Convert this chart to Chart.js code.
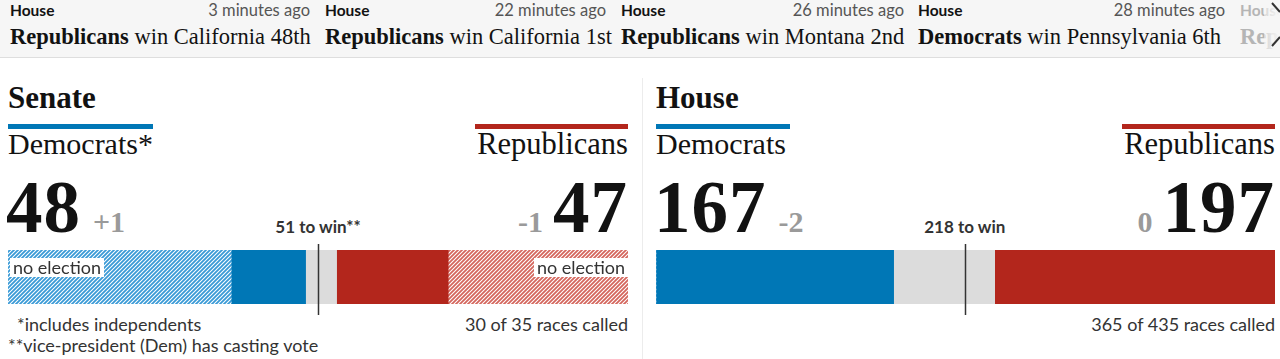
<!DOCTYPE html>
<html>
<head>
<meta charset="utf-8">
<script src="https://cdn.jsdelivr.net/npm/chart.js@4.4.1/dist/chart.umd.min.js"></script>
<style>
  html, body { margin:0; padding:0; }
  body { width:1280px; height:359px; overflow:hidden; background:#fff; position:relative; color:#121212; }
  .a { position:absolute; white-space:nowrap; line-height:1; }
  .serif { font-family:"Liberation Serif", "Times New Roman", serif; }
  .sans { font-family:Lato, "Open Sans", sans-serif; }
  #ticker { position:absolute; left:0; top:0; width:1280px; height:57px; background:#f6f6f6; border-bottom:1px solid #dedede; overflow:hidden; }
  .noel { position:absolute; background:#fff; font-family:Lato, sans-serif; font-size:18px; line-height:18px; height:19px; padding:0 3px; color:#333; white-space:nowrap; }
</style>
</head>
<body>
<div id="ticker"></div>
<div id="root"></div>
<script>
// ---------------- data ----------------
const tickerChamber = ["House", "House", "House", "House", "House"];
const tickerTime = ["3 minutes ago", "22 minutes ago", "26 minutes ago", "28 minutes ago", ""];
const tickerWinner = ["Republicans", "Republicans", "Republicans", "Democrats", "Republicans"];
const tickerRace = ["California 48th", "California 1st", "Montana 2nd", "Pennsylvania 6th", ""];

const chambers = ["Senate", "House"];
const demLabel = ["Democrats*", "Democrats"];
const repLabel = ["Republicans", "Republicans"];
const totalSeats = [100, 435];
const seatsToWin = [51, 218];
const winLabel = ["51 to win**", "218 to win"];
const demNoElection = [36, 0];
const demWon = [12, 167];
const undecided = [5, 71];
const repWon = [18, 197];
const repNoElection = [29, 0];
const demChange = ["+1", "-2"];
const repChange = ["-1", "0"];
const racesCalled = [30, 365];
const racesTotal = [35, 435];
const footnotes = [["*includes independents", "**vice-president (Dem) has casting vote"], []];

// ---------------- style ----------------
const DEM = "#0077b6", REP = "#b3261c", UND = "#dcdcdc";
const DEM_HATCH = "#3a9ad6", REP_HATCH = "#d4665d";

function el(parent, cls, text, css) {
  const d = document.createElement("div");
  d.className = cls;
  if (text !== null) d.textContent = text;
  Object.assign(d.style, css || {});
  parent.appendChild(d);
  return d;
}

// ---------------- ticker ----------------
const ticker = document.getElementById("ticker");
const tLeft = [10, 325, 621, 918, 1240];
const tWidth = [300, 281, 283, 307, 200];
tickerChamber.forEach((c, i) => {
  const faded = i === 4;
  const box = el(ticker, "a", null, { left: tLeft[i] + "px", top: "0px", width: tWidth[i] + "px", height: "57px" });
  el(box, "a sans", c, { left: "0px", top: "3px", fontSize: "15.5px", fontWeight: "700", color: faded ? "#b5b5b5" : "#121212" });
  if (tickerTime[i]) el(box, "a sans", tickerTime[i], { right: "0px", top: "2px", fontSize: "16.5px", color: "#555" });
  const h = el(box, "a serif", null, { left: "0px", top: "26px", fontSize: "22.5px", color: faded ? "#b5b5b5" : "#121212" });
  const b = document.createElement("b"); b.textContent = tickerWinner[i]; h.appendChild(b);
  if (tickerRace[i]) h.appendChild(document.createTextNode(" win " + tickerRace[i]));
});
// fade + arrows at the right edge
el(ticker, "a", null, { left: "1264px", top: "0px", width: "16px", height: "57px", background: "linear-gradient(to right, rgba(246,246,246,0.5), #f6f6f6)" });
const svgNS = "http://www.w3.org/2000/svg";
const svg = document.createElementNS(svgNS, "svg");
svg.setAttribute("width", "16"); svg.setAttribute("height", "57");
svg.style.position = "absolute"; svg.style.left = "1268px"; svg.style.top = "0px";
svg.innerHTML = '<path d="M4 3 L12 12 M4 46 L12 37" stroke="#333" stroke-width="2" fill="none"/>';
ticker.appendChild(svg);

// divider between panels
el(document.body, "a", null, { left: "642px", top: "78px", width: "1px", height: "281px", background: "#ececec" });

// ---------------- panels ----------------
const panelLeft = [8, 656], panelRight = [628, 1275];
const demRuleW = [145, 134], repRuleW = [153, 153];
const root = document.getElementById("root");

function hatchPattern(ctx, color) {
  const t = document.createElement("canvas");
  t.width = 4; t.height = 4;
  const g = t.getContext("2d");
  g.fillStyle = "#fff"; g.fillRect(0, 0, 4, 4);
  g.strokeStyle = color; g.lineWidth = 1.8;
  g.beginPath();
  g.moveTo(-1, 5); g.lineTo(5, -1);
  g.moveTo(-1, 1); g.lineTo(1, -1);
  g.moveTo(3, 5); g.lineTo(5, 3);
  g.stroke();
  return ctx.createPattern(t, "repeat");
}

chambers.forEach((name, i) => {
  const L = panelLeft[i], R = panelRight[i], RR = 1280 - R;
  const demTotal = demNoElection[i] + demWon[i];
  const repTotal = repNoElection[i] + repWon[i];

  el(root, "a serif", name, { left: L + "px", top: "82px", fontSize: "31px", fontWeight: "700" });
  el(root, "a", null, { left: L + "px", top: "124px", width: demRuleW[i] + "px", height: "5px", background: DEM });
  el(root, "a", null, { right: RR + "px", top: "124px", width: repRuleW[i] + "px", height: "5px", background: REP });
  el(root, "a serif", demLabel[i], { left: L + "px", top: "129px", fontSize: "30px" });
  el(root, "a serif", repLabel[i], { right: RR + "px", top: "129px", fontSize: "30.5px" });

  // big numbers
  const dn = el(root, "a serif", String(demTotal), { left: (L - 2) + "px", top: "171px", fontSize: "73px", fontWeight: "700", letterSpacing: "1px" });
  const rn = el(root, "a serif", String(repTotal), { right: RR + "px", top: "171px", fontSize: "73px", fontWeight: "700", letterSpacing: "1px" });
  const dw = dn.getBoundingClientRect().width;
  const rw = rn.getBoundingClientRect().width;
  el(root, "a serif", demChange[i], { left: (L - 2 + dw + 12) + "px", top: "207px", fontSize: "30px", fontWeight: "700", color: "#9a9a9a" });
  el(root, "a serif", repChange[i], { right: (RR + rw + 10) + "px", top: "207px", fontSize: "30px", fontWeight: "700", color: "#9a9a9a" });

  // footers
  el(root, "a sans", racesCalled[i] + " of " + racesTotal[i] + " races called", { right: RR + "px", top: "315px", fontSize: "18px", color: "#333" });
  footnotes[i].forEach((f, k) => {
    el(root, "a sans", f, { left: (k === 0 ? L + 9 : L) + "px", top: (315 + k * 21) + "px", fontSize: "18px", color: "#333" });
  });

  // bar chart
  const W = R - L;
  const cv = document.createElement("canvas");
  cv.width = W; cv.height = 80;
  Object.assign(cv.style, { position: "absolute", left: L + "px", top: "240px", width: W + "px", height: "80px" });
  root.appendChild(cv);
  const ctx = cv.getContext("2d");

  const winLine = {
    id: "winLine",
    afterDatasetsDraw(chart) {
      const x = Math.round(chart.scales.x.getPixelForValue(seatsToWin[i] - 1)) + 0.5;
      const c = chart.ctx;
      c.save();
      c.strokeStyle = "#333"; c.lineWidth = 1.5;
      c.beginPath(); c.moveTo(x, 4); c.lineTo(x, 75); c.stroke();
      c.restore();
    }
  };

  const chart = new Chart(ctx, {
    type: "bar",
    data: {
      labels: [name],
      datasets: [
        { label: "Dem (no election)", data: [demNoElection[i]], backgroundColor: hatchPattern(ctx, DEM_HATCH) },
        { label: "Dem", data: [demWon[i]], backgroundColor: DEM },
        { label: "Undecided", data: [undecided[i]], backgroundColor: UND },
        { label: "Rep", data: [repWon[i]], backgroundColor: REP },
        { label: "Rep (no election)", data: [repNoElection[i]], backgroundColor: hatchPattern(ctx, REP_HATCH) }
      ]
    },
    options: {
      indexAxis: "y",
      responsive: false,
      animation: false,
      devicePixelRatio: 1,
      layout: { padding: { top: 10, bottom: 16, left: 0, right: 0 } },
      datasets: { bar: { barPercentage: 1, categoryPercentage: 1, borderWidth: 0, borderSkipped: false } },
      scales: {
        x: { stacked: true, min: 0, max: totalSeats[i], display: false },
        y: { stacked: true, display: false }
      },
      plugins: { legend: { display: false }, tooltip: { enabled: false } }
    },
    plugins: [winLine]
  });

  const wx = L + chart.scales.x.getPixelForValue(seatsToWin[i] - 1);
  const wl = el(root, "a sans", winLabel[i], { left: "0px", top: "218px", fontSize: "17px", fontWeight: "700", color: "#333" });
  wl.style.left = (wx - wl.getBoundingClientRect().width / 2) + "px";

  // "no election" labels
  if (demNoElection[i] > 0) {
    el(root, "noel", "no election", { left: (chart.scales.x.getPixelForValue(0) + L + 2) + "px", top: "258px" });
  }
  if (repNoElection[i] > 0) {
    el(root, "noel", "no election", { right: (1280 - (L + chart.scales.x.getPixelForValue(totalSeats[i]))) + "px", top: "258px" });
  }
});
</script>
</body>
</html>
